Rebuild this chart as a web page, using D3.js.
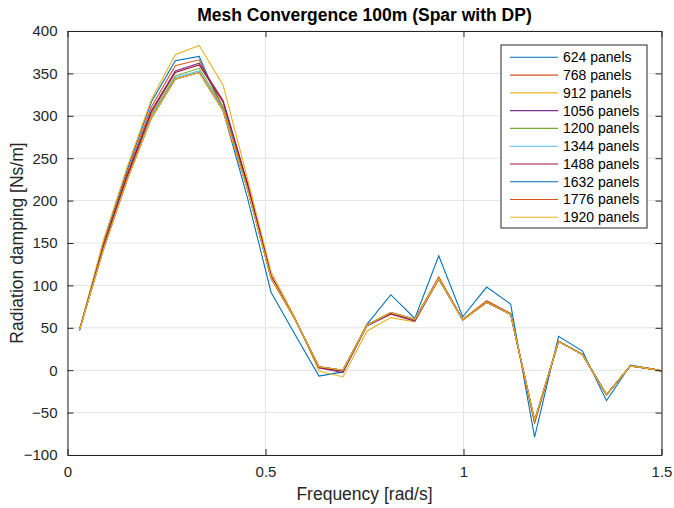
<!DOCTYPE html>
<html><head><meta charset="utf-8">
<script src="https://cdn.jsdelivr.net/npm/d3@7"></script>
<style>body{margin:0;background:#fff;} svg{display:block;font-family:"Liberation Sans",Arial,Helvetica,sans-serif;}</style>
</head><body>
<script>
const freq = [0.03,0.0905,0.151,0.2115,0.272,0.3325,0.393,0.4535,0.514,0.5745,0.635,0.6955,0.756,0.8165,0.877,0.9375,0.998,1.0585,1.119,1.1795,1.24,1.3005,1.361,1.4215,1.482,1.5];
const seriesNames = ["624 panels","768 panels","912 panels","1056 panels","1200 panels","1344 panels","1488 panels","1632 panels","1776 panels","1920 panels"];
const colors = ["#0072BD","#D95319","#EDB120","#7E2F8E","#77AC30","#4DBEEE","#A2142F","#0072BD","#D95319","#EDB120"];
const p624  = [47,150,237,316,365,370,306,205,92,42,-7,-2,54,89,61,135,63,98,78,-79,40,22.5,-36,6,1,-1];
const p768  = [47,147,233,310,359,366,310,218,108,60,4,0,53,68,60,110,60,82,67,-63,34,18.5,-29,5,1,-1];
const p912  = [47,153,240,319,372,383,336,228,116,62,-1,-8,46,62,57,107,59,80,66,-60,34,18.5,-29,5,1,-1];
const p1056 = [47,146,230,306,353,362,318,222,112,60,3,-3,52,66,58,108,59.5,80,66,-60,34,18.5,-29,5,1,-1];
const p1200 = [47,144,227,301,347,356,310,217,109,60,4,0,53,68,60,108,59.5,80,66,-59,34,18.5,-29,5,1,-1];
const p1344 = [47,143,226,299,345,353,308,216,109,60,4,0,53,68,60,108,59.5,80,66,-59,34,18.5,-29,5,1,-1];
const p1488 = [47,145,229,304,351,360,316,221,111,60,3,-1,53,67,59,108,59.5,80,66,-60,34,18.5,-29,5,1,-1];
const p1632 = [47,142,225,297,343,351,306,215,109,60,4,0,53,68,60,108,59.5,80,66,-59,34,18.5,-29,5,1,-1];
const p1776 = [47,142,225,297,343,351,306,215,109,60,4,0,53,68,60,108.5,59.5,80.5,66.5,-60,34,18.5,-29,5,1,-1];
const p1920 = [47,142,225,297,343,351,306,215,109,60,4,0,53,68,60,108,59.5,80,66,-59,34,18.5,-29,5,1,-1];
const seriesValues = [p624,p768,p912,p1056,p1200,p1344,p1488,p1632,p1776,p1920];
const xTicks = [0,0.5,1,1.5];
const xTickLabels = ["0","0.5","1","1.5"];
const yTicks = [-100,-50,0,50,100,150,200,250,300,350,400];
const titleText = "Mesh Convergence 100m (Spar with DP)";
const xLabel = "Frequency [rad/s]";
const yLabel = "Radiation damping [Ns/m]";

const W = 674, H = 508;
const m = {left:67.5, right:661.5, top:31, bottom:455};
const svg = d3.select("body").append("svg").attr("width",W).attr("height",H);
const x = d3.scaleLinear().domain([0,1.5]).range([m.left,m.right]);
const y = d3.scaleLinear().domain([-100,400]).range([m.bottom,m.top]);
const axisColor = "#262626";

// grid
svg.append("g").selectAll("line.gx").data(xTicks).join("line")
  .attr("x1",d=>x(d)).attr("x2",d=>x(d)).attr("y1",m.top).attr("y2",m.bottom)
  .attr("stroke","#e3e3e3").attr("stroke-width",1);
svg.append("g").selectAll("line.gy").data(yTicks).join("line")
  .attr("y1",d=>y(d)).attr("y2",d=>y(d)).attr("x1",m.left).attr("x2",m.right)
  .attr("stroke","#e3e3e3").attr("stroke-width",1);

// lines
const line = d3.line().x((d,i)=>x(freq[i])).y(d=>y(d));
svg.append("clipPath").attr("id","c").append("rect")
  .attr("x",m.left).attr("y",m.top).attr("width",m.right-m.left).attr("height",m.bottom-m.top);
const gl = svg.append("g").attr("clip-path","url(#c)");
seriesValues.forEach((vals,i)=>{
  gl.append("path").datum(vals).attr("d",line).attr("fill","none")
    .attr("stroke",colors[i]).attr("stroke-width",1.1).attr("stroke-linejoin","miter");
});

// axes (box with inward ticks)
const tl = 6;
const bottomAxis = d3.axisBottom(x).tickValues(xTicks).tickFormat((d,i)=>xTickLabels[i]).tickSizeInner(-tl).tickSizeOuter(0).tickPadding(11);
const leftAxis = d3.axisLeft(y).tickValues(yTicks).tickSizeInner(-tl).tickSizeOuter(0).tickPadding(10);
const topAxis = d3.axisTop(x).tickValues(xTicks).tickFormat("").tickSizeInner(-tl).tickSizeOuter(0);
const rightAxis = d3.axisRight(y).tickValues(yTicks).tickFormat("").tickSizeInner(-tl).tickSizeOuter(0);
function styleAxis(g){
  g.select(".domain").attr("stroke",axisColor).attr("stroke-width",1);
  g.selectAll(".tick line").attr("stroke",axisColor).attr("stroke-width",1);
  g.selectAll(".tick text").attr("fill",axisColor).style("font-size","15px").style("font-family",'"Liberation Sans",Arial,sans-serif');
}
svg.append("g").attr("transform",`translate(0,${m.bottom})`).call(bottomAxis).call(styleAxis);
svg.append("g").attr("transform",`translate(${m.left},0)`).call(leftAxis).call(styleAxis);
svg.append("g").attr("transform",`translate(0,${m.top})`).call(topAxis).call(styleAxis);
svg.append("g").attr("transform",`translate(${m.right},0)`).call(rightAxis).call(styleAxis);

// title and labels
svg.append("text").attr("x",(m.left+m.right)/2).attr("y",21).attr("text-anchor","middle")
  .style("font-size","17.5px").style("font-weight","bold").attr("fill","#000").text(titleText);
svg.append("text").attr("x",(m.left+m.right)/2).attr("y",500).attr("text-anchor","middle")
  .style("font-size","17.5px").attr("fill",axisColor).text(xLabel);
svg.append("text").attr("transform",`translate(23,${(m.top+m.bottom)/2}) rotate(-90)`).attr("text-anchor","middle")
  .style("font-size","17.5px").attr("fill",axisColor).text(yLabel);

// legend
const lg = svg.append("g");
const lx = 501, ly = 45, lw = 146, lh = 183;
lg.append("rect").attr("x",lx).attr("y",ly).attr("width",lw).attr("height",lh)
  .attr("fill","#fff").attr("stroke",axisColor).attr("stroke-width",1);
const rowY = d3.scaleLinear().domain([0,9]).range([57.3,217.3]);
seriesNames.forEach((n,i)=>{
  lg.append("line").attr("x1",510).attr("x2",558).attr("y1",rowY(i)).attr("y2",rowY(i))
    .attr("stroke",colors[i]).attr("stroke-width",1.1);
  lg.append("text").attr("x",563).attr("y",rowY(i)).attr("dy","0.35em")
    .style("font-size","14px").attr("fill","#000").text(n);
});
</script>
</body></html>
